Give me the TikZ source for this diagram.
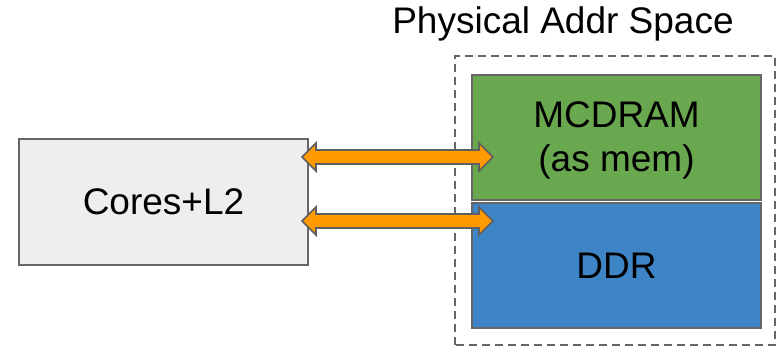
\documentclass[tikz,border=0pt]{standalone}
\usepackage{fontspec}
\setmainfont{Liberation Sans}
\usetikzlibrary{calc}
\definecolor{edgegray}{HTML}{666666}
\definecolor{coresfill}{HTML}{EEEEEE}
\definecolor{memgreen}{HTML}{6AA84F}
\definecolor{memblue}{HTML}{3D85C6}
\definecolor{linkorange}{HTML}{FF9900}
\definecolor{linkedge}{HTML}{5F5F5F}
\tikzset{
  bigtext/.style={font=\fontsize{37}{44}\selectfont, align=center, inner sep=0pt},
  block/.style={bigtext, draw=edgegray, line width=2pt, minimum width=289pt},
  region/.style={draw=edgegray, line width=1.5pt, dash pattern=on 8pt off 5pt},
  link/.style={fill=linkorange, draw=linkedge, line width=1.6pt, line join=miter},
}
% double-headed block arrow between two tip points at equal height
\newcommand{\dbllink}[2]{%
  \draw[link] (#1) -- ++(14,14) -- ++(0,-7) -- ($(#2)+(-14,7)$) -- ++(0,7)
    -- (#2) -- ++(-14,-14) -- ++(0,7) -- ($(#1)+(14,-7)$) -- ++(0,-7) -- cycle;}
\begin{document}
\begin{tikzpicture}[x=1pt, y=1pt]
  \useasboundingbox (0,0) rectangle (779,346);
  \draw[region] (455,1) rectangle (775,290);
  \node[bigtext] (title) at (563,322) {Physical Addr Space};
  \node[block, fill=coresfill, minimum height=126pt] (cores) at (163.5,144) {Cores+L2};
  \node[block, fill=memgreen, minimum height=125pt] (mcdram) at (616.5,208.5) {};
  \node[bigtext] (mcdramlabel) at ($(mcdram.center)+(0,-3)$) {MCDRAM\\(as mem)};
  \node[block, fill=memblue, minimum height=125pt] (ddr) at (616.5,80.5) {DDR};
  \coordinate (c1) at (302,189);
  \coordinate (m1) at (493,189);
  \coordinate (c2) at (302,125);
  \coordinate (d2) at (493,125);
  \dbllink{c1}{m1}
  \dbllink{c2}{d2}
\end{tikzpicture}
\end{document}
